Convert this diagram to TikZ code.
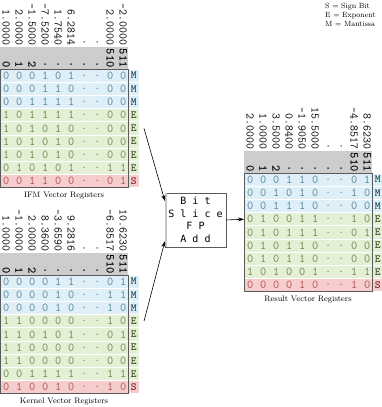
\documentclass[tikz,border=0pt]{standalone}
\usepackage{fontspec}
\newfontfamily\opfont{DejaVu Sans Mono}
\usepackage{tikz}
\usetikzlibrary{arrows.meta, calc}

\definecolor{rowM}{RGB}{222,239,247}
\definecolor{rowE}{RGB}{227,240,214}
\definecolor{rowS}{RGB}{246,205,205}
\definecolor{bitM}{RGB}{85,130,150}
\definecolor{bitE}{RGB}{105,135,75}
\definecolor{bitS}{RGB}{175,80,80}
\definecolor{tagM}{RGB}{25,75,95}
\definecolor{tagE}{RGB}{65,85,35}
\definecolor{tagS}{RGB}{130,35,35}
\definecolor{hdrgray}{RGB}{205,205,205}
\definecolor{boxgray}{RGB}{90,90,90}

% 寄存器表：#1 名称, #2 数值, #3 各行比特/类型, #4 标题
\newcommand{\regtable}[4]{%
  % 数值 (竖排)
  \foreach \v [count=\c] in {#2}
    \node[valnum] (#1-v\c) at ({6.2+13*(\c-1)}, 46) {\v};
  % 灰色表头
  \fill[hdrgray] (0,47) rectangle (128,69);
  \foreach \h [count=\c] in {0,1,2,.,.,.,.,.,510,511}
    \node[hdrnum] (#1-h\c) at ({6.2+13*(\c-1)}, 68.5) {\h};
  % 比特行
  \foreach \bits/\kind [count=\r] in {#3} {
    \fill[fill=row\kind] (0,{69+13.2*(\r-1)+0.5}) rectangle (139,{69+13.2*\r-0.5});
    \foreach \b [count=\c] in \bits
      \node[bitnum, text=bit\kind] (#1-b\r-\c) at ({6.2+13*(\c-1)}, {69+13.2*(\r-0.5)}) {\b};
    \node[kindtag, text=tag\kind] (#1-k\r) at (133.8, {69+13.2*(\r-0.5)}) {\kind};
    \coordinate (#1-row\r) at (0, {69+13.2*(\r-0.5)});
    \coordinate (#1-tail\r) at (144, {69+13.2*(\r-0.5)});
  }
  \draw[boxgray, line width=0.8pt] (0.4,69) rectangle (128,187.8);
  \node[reglabel] (#1-lbl) at (64,196) {#4};
}

\begin{document}
\begin{tikzpicture}[x=1pt, y=-1pt,
    bitnum/.style={font=\ttfamily\fontsize{12}{12}\selectfont, inner sep=0pt},
    valnum/.style={font=\ttfamily\fontsize{11.5}{11.5}\selectfont, rotate=-90, anchor=east, inner sep=0.5pt},
    hdrnum/.style={font=\ttfamily\bfseries\fontsize{12}{12}\selectfont, rotate=-90, anchor=east, inner sep=0.5pt},
    kindtag/.style={font=\ttfamily\bfseries\fontsize{11}{11}\selectfont, inner sep=0pt},
    reglabel/.style={font=\fontsize{8}{9}\selectfont, inner sep=0pt},
    opbox/.style={draw=boxgray, fill=white, minimum width=59pt, minimum height=54pt, align=center, font=\opfont\fontsize{10}{12.5}\selectfont},
    feed/.style={-{Stealth[length=6pt, width=4pt]}, semithick}]
  \useasboundingbox (0,0) rectangle (382,407);

  % 图例
  \node[anchor=north west, align=left, inner sep=0pt, font=\fontsize{7.5}{9}\selectfont] (legend) at (325,3)
    {S = Sign Bit\\E = Exponent\\M = Mantissa};

  % IFM 寄存器
  \begin{scope}
    \regtable{ifm}{1.0000,2.0000,-1.5000,-7.5200,1.7540,6.2814,.,.,2.0000,-2.0000}
      {{0,0,0,1,0,1,.,.,0,0}/M, {0,0,0,1,1,0,.,.,0,0}/M, {0,0,1,1,1,1,.,.,0,0}/M,
       {1,0,1,1,1,1,.,.,0,0}/E, {1,0,1,0,1,0,.,.,0,0}/E, {1,0,1,0,1,0,.,.,0,0}/E,
       {1,0,1,0,1,0,.,.,0,0}/E, {0,1,0,1,0,1,.,.,1,1}/E, {0,0,1,1,0,0,.,.,0,1}/S}
      {IFM Vector Registers}
  \end{scope}

  % Kernel 寄存器
  \begin{scope}[shift={(0,206)}]
    \regtable{ker}{1.0000,-1.0000,2.0000,8.3600,-3.6590,9.2816,.,.,-6.8517,10.6230}
      {{0,0,0,0,1,1,.,.,0,1}/M, {0,0,0,0,1,0,.,.,1,1}/M, {0,0,0,0,1,0,.,.,1,0}/M,
       {1,1,0,0,0,0,.,.,1,0}/E, {1,1,0,1,0,1,.,.,0,1}/E, {1,1,0,0,0,0,.,.,0,0}/E,
       {1,1,0,0,0,0,.,.,0,0}/E, {0,0,1,1,1,1,.,.,1,1}/E, {0,1,0,0,1,0,.,.,1,0}/S}
      {Kernel Vector Registers}
  \end{scope}

  % 结果寄存器
  \begin{scope}[shift={(244,104)}]
    \regtable{res}{2.0000,1.0000,3.5000,0.8400,-1.9050,15.5000,.,.,-4.8517,8.6230}
      {{0,0,0,1,1,0,.,.,0,1}/M, {0,0,1,0,1,0,.,.,1,0}/M, {0,0,1,1,1,0,.,.,0,0}/M,
       {0,1,0,0,1,1,.,.,1,0}/E, {0,1,0,1,1,1,.,.,0,1}/E, {0,1,0,1,1,0,.,.,0,0}/E,
       {0,1,0,1,1,0,.,.,0,0}/E, {1,0,1,0,0,1,.,.,1,1}/E, {0,0,0,0,1,0,.,.,1,0}/S}
      {Result Vector Registers}
  \end{scope}

  % 位切片浮点加法
  \node[opbox] (bsfp) at (195.5,220) {B i t\\S l i c e\\F P\\A d d};
  \draw[gray!45, line width=1.5pt] ([xshift=1.2pt,yshift=-0.6pt]bsfp.north west) -- ([xshift=1.2pt,yshift=0.6pt]bsfp.south west);

  % 连线
  \draw[feed] (ifm-tail5) -- ($(bsfp.north west)!0.15!(bsfp.south west)$);
  \draw[feed] (ker-tail4) -- ($(bsfp.north west)!0.89!(bsfp.south west)$);
  \draw[feed] (bsfp.east) -- (res-row4);
\end{tikzpicture}
\end{document}
